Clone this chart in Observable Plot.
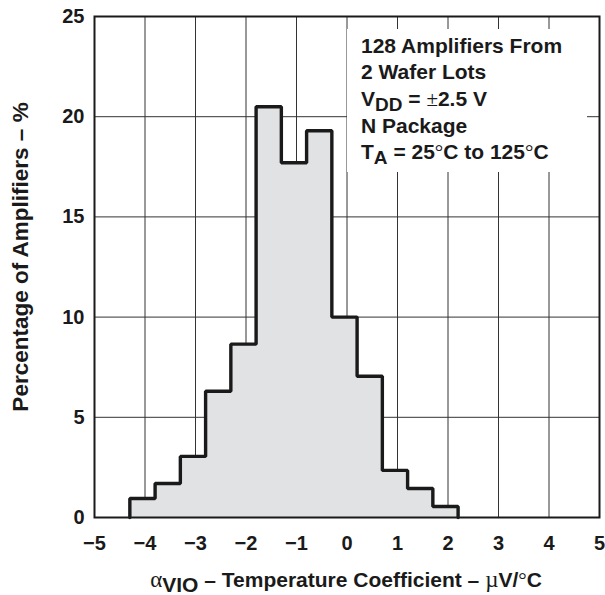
<!DOCTYPE html>
<html>
<head>
<meta charset="utf-8">
<script src="https://cdn.jsdelivr.net/npm/d3@7"></script>
<script src="https://cdn.jsdelivr.net/npm/@observablehq/plot@0.6"></script>
<style>
  html, body { margin: 0; padding: 0; background: #fff; }
  #wrap { position: relative; width: 605px; height: 595px; font-family: "Liberation Sans", Arial, sans-serif; }
  #note { position: absolute; left: 347px; top: 29px; width: 240px; height: 143px; background: #fff;
          font-weight: bold; font-size: 21px; line-height: 26.7px; color: #1a1a1a; padding-left: 14px; box-sizing: border-box; padding-top: 3.5px; white-space: nowrap; }
  #note sub { font-size: 19px; vertical-align: -5px; line-height: 0; }
  .sym { font-family: "Liberation Serif", "DejaVu Serif", serif; font-weight: normal; }
</style>
</head>
<body>
<div id="wrap"></div>
<script>
// Bin left edges (µV/°C), bin width 0.5
const binStarts = [-4.3, -3.8, -3.3, -2.8, -2.3, -1.8, -1.3, -0.8, -0.3, 0.2, 0.7, 1.2, 1.7];
const binWidth = 0.5;
// Percentage of amplifiers in each bin
const percents = [0.95, 1.7, 3.05, 6.3, 8.65, 20.5, 17.7, 19.3, 10.0, 7.05, 2.35, 1.45, 0.55];
const xTicks = [-5, -4, -3, -2, -1, 0, 1, 2, 3, 4, 5];
const yTicks = [0, 5, 10, 15, 20, 25];
const noteLines = [
  "128 Amplifiers From",
  "2 Wafer Lots",
  "V<sub>DD</sub> = <span class='sym'>±</span>2.5 V",
  "N Package",
  "T<sub>A</sub> = 25<span class='sym'>°</span>C to 125<span class='sym'>°</span>C"
];

// Outline points of the histogram
const outline = [{x: binStarts[0], y: 0}];
binStarts.forEach((x0, i) => {
  outline.push({x: x0, y: percents[i]});
  outline.push({x: x0 + binWidth, y: percents[i]});
});
outline.push({x: binStarts[binStarts.length - 1] + binWidth, y: 0});

const W = 605, H = 595;
const chart = Plot.plot({
  width: W, height: H,
  marginLeft: 94, marginRight: 6, marginTop: 16, marginBottom: 78,
  style: {fontFamily: "'Liberation Sans', Arial, sans-serif", fontSize: "20px", fontWeight: "bold", color: "#1a1a1a", background: "#fff"},
  x: {domain: [-5, 5], ticks: xTicks, tickFormat: d3.format("")},
  y: {domain: [0, 25], ticks: yTicks, tickFormat: d3.format("")},
  marks: [
    Plot.gridX(xTicks, {stroke: "#333", strokeOpacity: 1, strokeWidth: 1}),
    Plot.gridY(yTicks, {stroke: "#333", strokeOpacity: 1, strokeWidth: 1}),
    Plot.areaY(outline, {x: "x", y1: 0, y2: "y", fill: "#e1e2e4"}),
    Plot.line(outline, {x: "x", y: "y", stroke: "#1a1a1a", strokeWidth: 3.4, strokeLinejoin: "miter"}),
    Plot.frame({stroke: "#1a1a1a", strokeWidth: 2}),
    Plot.axisX({ticks: xTicks, tickFormat: d3.format(""), tickSize: 0, tickPadding: 18, label: null, fontSize: 20, fontWeight: "bold"}),
    Plot.axisY({ticks: yTicks, tickFormat: d3.format(""), tickSize: 0, tickPadding: 10, label: null, fontSize: 20, fontWeight: "bold"})
  ]
});

const svg = d3.select(chart);
// y-axis title
svg.append("text")
  .attr("transform", `translate(28, 257) rotate(-90)`)
  .attr("text-anchor", "middle")
  .attr("font-size", 22.5).attr("font-weight", "bold").attr("fill", "#1a1a1a")
  .text("Percentage of Amplifiers – %");
// x-axis title with subscript
const xt = svg.append("text")
  .attr("x", 346).attr("y", 587)
  .attr("text-anchor", "middle")
  .attr("font-size", 21).attr("font-weight", "bold").attr("fill", "#1a1a1a");
xt.append("tspan").attr("font-family", "'Liberation Serif', serif").attr("font-weight", "normal").attr("font-size", 23).text("α");
xt.append("tspan").attr("dy", 5).text("VIO");
xt.append("tspan").attr("dy", -5).text(" – Temperature Coefficient – ");
xt.append("tspan").attr("font-family", "'Liberation Serif', serif").attr("font-weight", "normal").attr("font-size", 23).text("µ");
xt.append("tspan").text("V/");
xt.append("tspan").attr("font-family", "'Liberation Serif', serif").attr("font-weight", "normal").text("°");
xt.append("tspan").text("C");

const wrap = document.getElementById("wrap");
wrap.appendChild(chart);
const note = document.createElement("div");
note.id = "note";
note.innerHTML = noteLines.join("<br>");
wrap.appendChild(note);
</script>
</body>
</html>
